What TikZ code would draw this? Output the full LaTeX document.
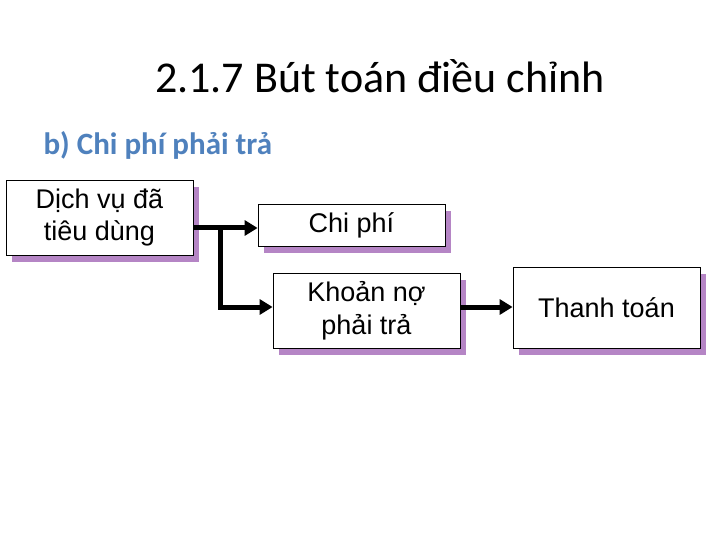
\documentclass[tikz,border=0pt]{standalone}
\usepackage{fontspec}
\setmainfont{Liberation Sans}
\newfontfamily\titlefont{Carlito}
\usetikzlibrary{arrows.meta,shadows}
\definecolor{shadowpurple}{HTML}{B585C5}
\definecolor{subblue}{HTML}{4F81BD}
\begin{document}
\begin{tikzpicture}[x=1pt,y=1pt,
  box/.style={draw=black,line width=0.8pt,fill=white,minimum width=187pt,align=center,
    font=\fontsize{27}{32.5}\selectfont,inner sep=0pt,
    drop shadow={shadow xshift=6pt,shadow yshift=-7pt,fill=shadowpurple,opacity=1}},
  conn/.style={line width=5pt,-{Triangle[length=13pt,width=15pt]}}]
\useasboundingbox[fill=white] (0,0) rectangle (720,-540);
\node[font=\titlefont\fontsize{44}{48}\selectfont] (title) at (380,-76) {2.1.7 Bút toán điều chỉnh};
\node[font=\titlefont\bfseries\fontsize{31}{34}\selectfont,text=subblue,anchor=west] (sub) at (40,-145) {b) Chi phí phải trả};
\node[box,minimum height=75pt] (dv) at (99.5,-217.5) {Dịch vụ đã\\tiêu dùng};
\node[box,minimum height=42pt] (cp) at (351.5,-225) {Chi phí};
\node[box,minimum height=75pt] (kn) at (366.5,-310.5) {Khoản nợ\\phải trả};
\node[box,minimum height=81pt] (tt) at (606.5,-307.5) {Thanh toán};
\coordinate (j) at (220,-228);
\coordinate (k) at (220,-307);
\draw[conn] (dv.east |- j) -- (cp.west |- j);
\draw[conn] (j) -- (k) -- (kn.west |- k);
\draw[conn] (kn.east |- k) -- (tt.west |- k);
\end{tikzpicture}
\end{document}
